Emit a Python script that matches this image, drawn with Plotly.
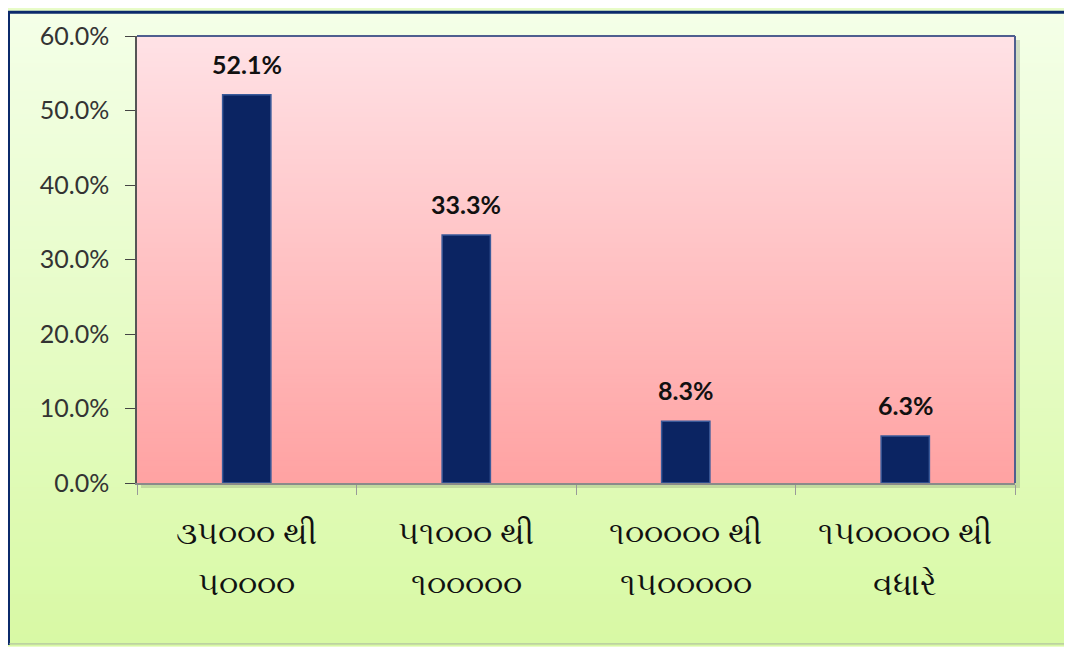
import plotly.graph_objects as go

line1 = ["૩૫૦૦૦ થી", "૫૧૦૦૦ થી", "૧૦૦૦૦૦ થી", "૧૫૦૦૦૦૦ થી"]
line2 = ["૫૦૦૦૦", "૧૦૦૦૦૦", "૧૫૦૦૦૦૦", "વધારે"]
categories = [a + " " + b for a, b in zip(line1, line2)]
values = [0.521, 0.333, 0.083, 0.063]
labels = ["52.1%", "33.3%", "8.3%", "6.3%"]


def mix(c1, c2, t):
    a = [int(c1[i:i + 2], 16) for i in (1, 3, 5)]
    b = [int(c2[i:i + 2], 16) for i in (1, 3, 5)]
    return "rgb(%d,%d,%d)" % tuple(round(a[k] + (b[k] - a[k]) * t) for k in range(3))


def gradient(x0, x1, y0, y1, top, bottom, n=160):
    out = []
    for i in range(n):
        ya = y0 + (y1 - y0) * i / n
        yb = y0 + (y1 - y0) * (i + 1.4) / n
        out.append(dict(type="rect", xref="paper", yref="paper", x0=x0, x1=x1, y0=ya, y1=min(yb, y1),
                        fillcolor=mix(bottom, top, (i + 0.5) / n), line_width=0, layer="below"))
    return out


# page has an 8px body margin, so the figure starts at screen (8, 8)
W, H = 1064, 639
L, R, T, B = 129, 57, 25, 164
pw, ph = W - L - R, H - T - B


def px(x):  # screen x -> paper
    return (x - 137) / pw


def py(y):  # screen y -> paper
    return (483 - y) / ph


shapes = []
# outer chart background
shapes += gradient(px(8), px(1072), py(647), py(8), "#f4ffe8", "#d8f9a4")
# shadow of plot area
shapes.append(dict(type="rect", xref="paper", yref="paper", x0=px(141), x1=px(1020),
                   y0=py(488), y1=py(37), fillcolor="rgba(90,100,80,0.22)",
                   line_width=0, layer="below"))
# plot area background
shapes += gradient(0, 1, 0, 1, "#ffe2e6", "#ffa2a2")
# plot frame top/right
shapes.append(dict(type="line", xref="paper", yref="paper", x0=0, x1=1, y0=1, y1=1,
                   line=dict(color="#4f5f8f", width=2)))
shapes.append(dict(type="line", xref="paper", yref="paper", x0=1, x1=1, y0=0, y1=1,
                   line=dict(color="#4f5f8f", width=2)))
# outer border
shapes.append(dict(type="line", xref="paper", yref="paper", x0=px(9), x1=px(9), y0=py(646), y1=py(8),
                   line=dict(color="#0b2a6b", width=2)))
shapes.append(dict(type="line", xref="paper", yref="paper", x0=px(8), x1=px(1072), y0=py(9), y1=py(9),
                   line=dict(color="#0b2a6b", width=3)))
shapes.append(dict(type="line", xref="paper", yref="paper", x0=px(9), x1=px(1072), y0=py(645), y1=py(645),
                   line=dict(color="#a9b6a0", width=1)))

fig = go.Figure()
fig.add_trace(go.Bar(
    x=categories, y=values, width=0.22,
    marker=dict(color="#0b2462", line=dict(color="#3a5a9a", width=1.5)),
))

annotations = []
for c, v, t in zip(categories, values, labels):
    annotations.append(dict(x=c, y=v, xref="x", yref="y", text=t, showarrow=False,
                            yshift=31, yanchor="middle",
                            font=dict(family="Lato", size=25, color="#111111", weight="bold")))
for c, a, b in zip(categories, line1, line2):
    annotations.append(dict(x=c, y=py(532), xref="x", yref="paper", text=a, showarrow=False,
                            yanchor="middle", font=dict(size=32, color="#111111")))
    annotations.append(dict(x=c, y=py(583), xref="x", yref="paper", text=b, showarrow=False,
                            yanchor="middle", font=dict(size=32, color="#111111")))

fig.update_layout(
    width=W, height=H,
    margin=dict(l=L, r=R, t=T, b=B),
    paper_bgcolor="#e8fcc8", plot_bgcolor="rgba(0,0,0,0)",
    shapes=shapes, annotations=annotations, showlegend=False,
    font=dict(family="Lato, Noto Sans", color="#222222"),
)
fig.update_yaxes(range=[0, 0.6], dtick=0.1, tickformat=".1%", showgrid=False,
                 ticks="outside", ticklen=10, tickcolor="#444444", showline=True,
                 linecolor="#555555", linewidth=1.5, tickfont=dict(size=25, color="#333333"),
                 ticklabelstandoff=11, zeroline=False)
fig.update_xaxes(showgrid=False, ticks="outside", tickson="boundaries", ticklen=10,
                 tickcolor="#999999", showline=True, linecolor="#8a8a8a", linewidth=1.5,
                 showticklabels=False)

fig.write_html("out.html")
